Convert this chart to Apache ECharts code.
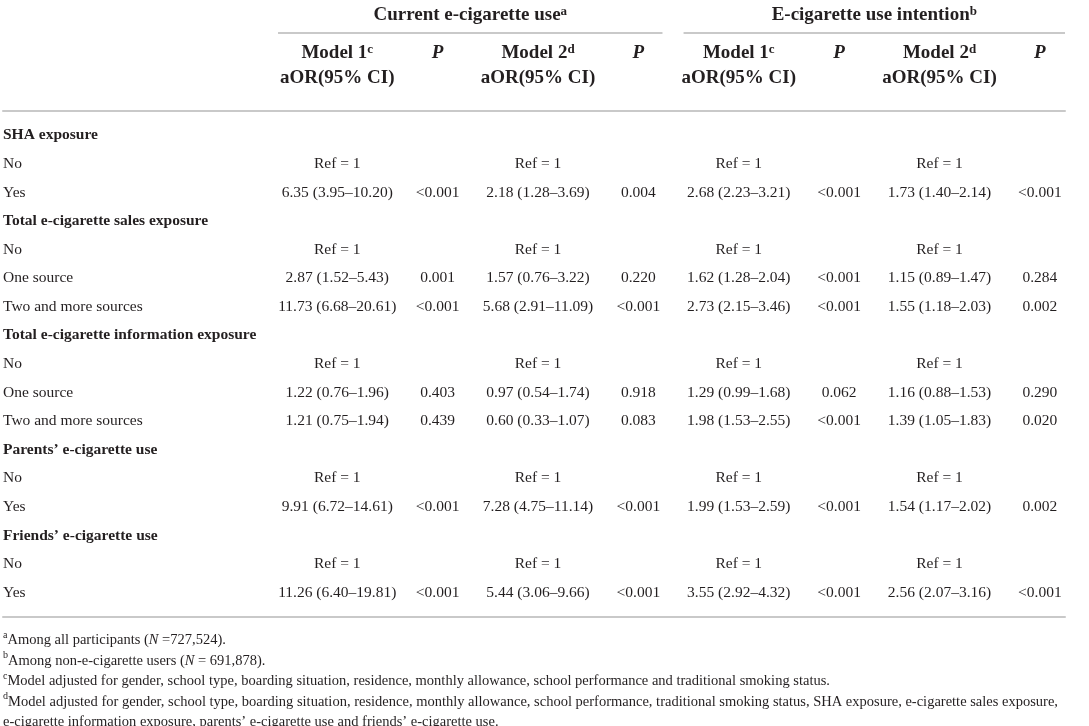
<!DOCTYPE html>
<html>
<head>
<meta charset="utf-8">
<title>E-cigarette exposure table</title>
<script src="https://cdn.jsdelivr.net/npm/echarts@6/dist/echarts.min.js"></script>
<style>
  html, body { margin: 0; padding: 0; background: #fff; }
  #main { width: 1089px; height: 726px; }
</style>
</head>
<body>
<div id="main"></div>
<script>
// ---- table content ----
const rowLabels = [
  'SHA exposure', 'No', 'Yes',
  'Total e-cigarette sales exposure', 'No', 'One source', 'Two and more sources',
  'Total e-cigarette information exposure', 'No', 'One source', 'Two and more sources',
  'Parents’ e-cigarette use', 'No', 'Yes',
  'Friends’ e-cigarette use', 'No', 'Yes'
]
const boldRows = [0, 3, 7, 11, 14]

const groupHeaders = ['Current e-cigarette use', 'E-cigarette use intention']
const groupSups = ['a', 'b']
const colHeaders = ['Model 1', 'P', 'Model 2', 'P', 'Model 1', 'P', 'Model 2', 'P']
const colSups = ['c', '', 'd', '', 'c', '', 'd', '']
const colSubHeaders = ['aOR(95% CI)', '', 'aOR(95% CI)', '', 'aOR(95% CI)', '', 'aOR(95% CI)', '']

const currentModel1 = ['', 'Ref = 1', '6.35 (3.95–10.20)', '', 'Ref = 1', '2.87 (1.52–5.43)', '11.73 (6.68–20.61)', '', 'Ref = 1', '1.22 (0.76–1.96)', '1.21 (0.75–1.94)', '', 'Ref = 1', '9.91 (6.72–14.61)', '', 'Ref = 1', '11.26 (6.40–19.81)']
const currentModel1P = ['', '', '<0.001', '', '', '0.001', '<0.001', '', '', '0.403', '0.439', '', '', '<0.001', '', '', '<0.001']
const currentModel2 = ['', 'Ref = 1', '2.18 (1.28–3.69)', '', 'Ref = 1', '1.57 (0.76–3.22)', '5.68 (2.91–11.09)', '', 'Ref = 1', '0.97 (0.54–1.74)', '0.60 (0.33–1.07)', '', 'Ref = 1', '7.28 (4.75–11.14)', '', 'Ref = 1', '5.44 (3.06–9.66)']
const currentModel2P = ['', '', '0.004', '', '', '0.220', '<0.001', '', '', '0.918', '0.083', '', '', '<0.001', '', '', '<0.001']
const intentModel1 = ['', 'Ref = 1', '2.68 (2.23–3.21)', '', 'Ref = 1', '1.62 (1.28–2.04)', '2.73 (2.15–3.46)', '', 'Ref = 1', '1.29 (0.99–1.68)', '1.98 (1.53–2.55)', '', 'Ref = 1', '1.99 (1.53–2.59)', '', 'Ref = 1', '3.55 (2.92–4.32)']
const intentModel1P = ['', '', '<0.001', '', '', '<0.001', '<0.001', '', '', '0.062', '<0.001', '', '', '<0.001', '', '', '<0.001']
const intentModel2 = ['', 'Ref = 1', '1.73 (1.40–2.14)', '', 'Ref = 1', '1.15 (0.89–1.47)', '1.55 (1.18–2.03)', '', 'Ref = 1', '1.16 (0.88–1.53)', '1.39 (1.05–1.83)', '', 'Ref = 1', '1.54 (1.17–2.02)', '', 'Ref = 1', '2.56 (2.07–3.16)']
const intentModel2P = ['', '', '<0.001', '', '', '0.284', '0.002', '', '', '0.290', '0.020', '', '', '0.002', '', '', '<0.001']

const footnotes = [
  '{s|a}Among all participants ({i|N} =727,524).',
  '{s|b}Among non-e-cigarette users ({i|N} = 691,878).',
  '{s|c}Model adjusted for gender, school type, boarding situation, residence, monthly allowance, school performance and traditional smoking status.',
  '{s|d}Model adjusted for gender, school type, boarding situation, residence, monthly allowance, school performance, traditional smoking status, SHA exposure, e-cigarette sales exposure,',
  'e-cigarette information exposure, parents’ e-cigarette use and friends’ e-cigarette use.'
]

// ---- layout (axis units: one column / one row per unit) ----
const FONT = '"Liberation Serif", "DejaVu Serif", serif'
const TEXT = '#231f20'
const RULE = '#c9c9c9'
const X_MIN = -3.33
const X_MAX = 7.25
const Y_MIN = -0.85
const Y_MAX = 16.85
const HEADER_Y = { group: -4.21, groupRule: -3.58, model: -2.88, sub: -2.0 }
const GROUP_SPAN = [[-0.59, 3.24], [3.45, 7.25]]

const columns = [currentModel1, currentModel1P, currentModel2, currentModel2P,
  intentModel1, intentModel1P, intentModel2, intentModel2P]

const cells = []
rowLabels.forEach((t, r) => {
  cells.push({ col: X_MIN, row: r, text: t, align: 'left', size: 15.5, bold: boldRows.indexOf(r) >= 0 })
})
columns.forEach((list, c) => {
  list.forEach((t, r) => {
    if (t) cells.push({ col: c, row: r, text: t, align: 'center', size: 15.5 })
  })
})
colHeaders.forEach((t, c) => {
  const txt = colSups[c] ? t + '{sup|' + colSups[c] + '}' : t
  cells.push({ col: c, row: HEADER_Y.model, text: txt, align: 'center', size: 19, bold: true, italic: t === 'P' })
  if (colSubHeaders[c]) {
    cells.push({ col: c, row: HEADER_Y.sub, text: colSubHeaders[c], align: 'center', size: 19, bold: true })
  }
})
groupHeaders.forEach((t, g) => {
  const mid = (GROUP_SPAN[g][0] + GROUP_SPAN[g][1]) / 2
  cells.push({ col: mid, row: HEADER_Y.group, text: t + '{sup|' + groupSups[g] + '}', align: 'center', size: 19, bold: true })
})

function renderCell(params, api) {
  const c = cells[params.dataIndex]
  const pt = api.coord([c.col, c.row])
  const weight = c.bold ? 'bold' : 'normal'
  return {
    type: 'text',
    x: pt[0],
    y: pt[1],
    style: {
      text: c.text,
      fill: TEXT,
      align: c.align,
      verticalAlign: 'middle',
      fontFamily: FONT,
      fontSize: c.size,
      fontWeight: weight,
      fontStyle: c.italic ? 'italic' : 'normal',
      rich: {
        sup: { fontFamily: FONT, fontSize: Math.round(c.size * 0.68), fontWeight: weight, fill: TEXT, verticalAlign: 'top' }
      }
    }
  }
}

function renderRule(params, api) {
  const a = api.coord([api.value(0), HEADER_Y.groupRule])
  const b = api.coord([api.value(1), HEADER_Y.groupRule])
  return {
    type: 'line',
    shape: { x1: a[0], y1: a[1], x2: b[0], y2: b[1] },
    style: { stroke: RULE, lineWidth: 2 }
  }
}

const chart = echarts.init(document.getElementById('main'))
const ruleAxis = {
  type: 'value',
  min: X_MIN,
  max: X_MAX,
  axisLine: { show: true, onZero: false, lineStyle: { color: RULE, width: 2 } },
  axisTick: { show: false },
  axisLabel: { show: false },
  splitLine: { show: false }
}
chart.setOption({
  animation: false,
  backgroundColor: '#fff',
  title: {
    left: 3,
    top: 630,
    padding: 0,
    text: footnotes.join('\n'),
    textStyle: {
      fontFamily: FONT,
      fontSize: 14.5,
      fontWeight: 'normal',
      color: TEXT,
      lineHeight: 20.5,
      rich: {
        s: { fontFamily: FONT, fontSize: 10, color: TEXT, verticalAlign: 'top', lineHeight: 20.5 },
        i: { fontFamily: FONT, fontSize: 14.5, fontStyle: 'italic', color: TEXT, lineHeight: 20.5 }
      }
    }
  },
  grid: { left: 3, right: 24, top: 111, bottom: 109 },
  xAxis: [
    Object.assign({ position: 'top' }, ruleAxis),
    Object.assign({ position: 'bottom' }, ruleAxis)
  ],
  yAxis: {
    type: 'value',
    inverse: true,
    min: Y_MIN,
    max: Y_MAX,
    show: false
  },
  series: [
    {
      type: 'custom',
      xAxisIndex: 0,
      renderItem: renderCell,
      data: cells.map(c => [c.col, c.row]),
      silent: true
    },
    {
      type: 'custom',
      xAxisIndex: 0,
      renderItem: renderRule,
      encode: { x: [0, 1] },
      data: GROUP_SPAN,
      silent: true
    }
  ]
})
</script>
</body>
</html>
